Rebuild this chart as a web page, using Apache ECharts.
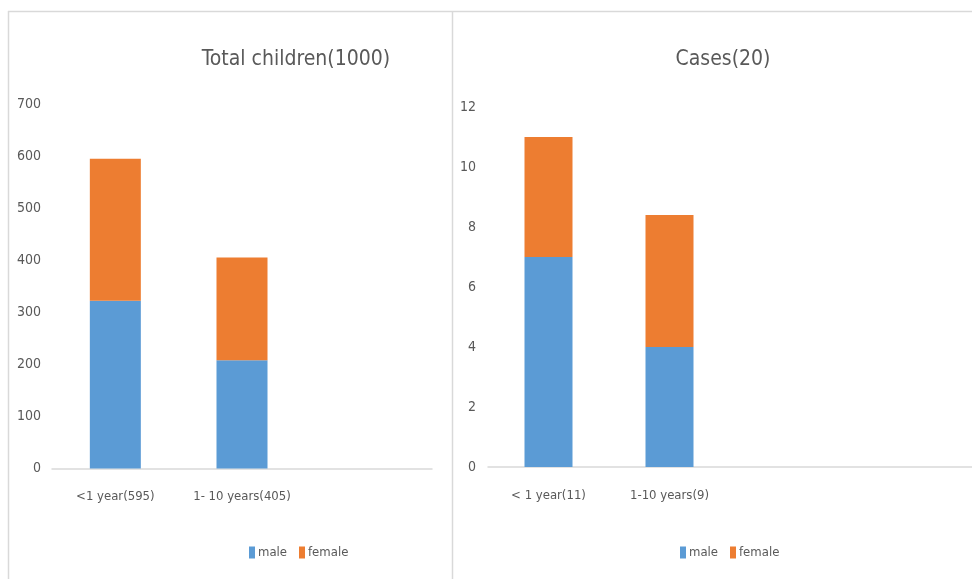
<!DOCTYPE html>
<html>
<head>
<meta charset="utf-8">
<script src="https://cdn.jsdelivr.net/npm/echarts@6/dist/echarts.min.js"></script>
<style>
html,body{margin:0;padding:0;background:#fff;}
#c{width:972px;height:579px;}
</style>
</head>
<body>
<div id="c"></div>
<script>
// ---- data ----
const leftTitle = 'Total children(1000)';
const rightTitle = 'Cases(20)';
const catsLeft = ['<1 year(595)', '1- 10 years(405)'];
const maleLeft = [322, 208];
const femaleLeft = [273, 197];
const catsRight = ['< 1 year(11)', '1-10 years(9)'];
const maleRight = [7, 4];
const femaleRight = [4, 4.4];
const seriesNames = ['male', 'female'];
const leftAxis = {min: 0, max: 700, interval: 100};
const rightAxis = {min: 0, max: 12, interval: 2};

const FONT = '"Liberation Sans Narrow", "Arial Narrow", "DejaVu Sans Condensed", sans-serif';
const TXT = '#595959';
const BLUE = '#5B9BD5';
const ORANGE = '#ED7D31';
const LINE = '#d9d9d9';

const chart = echarts.init(document.getElementById('c'), null, {renderer: 'canvas'});

function xAx(idx, cats, maxIdx, margin) {
  return {
    type: 'category', gridIndex: idx, data: cats, max: maxIdx,
    axisLine: {lineStyle: {color: LINE, width: 1.5}},
    axisTick: {show: false},
    axisLabel: {color: TXT, fontFamily: FONT, fontSize: 13, margin: margin, interval: 0}
  };
}
function yAx(idx, a, margin) {
  return {
    type: 'value', gridIndex: idx, min: a.min, max: a.max, interval: a.interval,
    axisLine: {show: false}, axisTick: {show: false}, splitLine: {show: false},
    axisLabel: {color: TXT, fontFamily: FONT, fontSize: 14, margin: margin}
  };
}
function bar(name, data, idx, color, w) {
  return {
    name: name, type: 'bar', stack: 's' + idx, xAxisIndex: idx, yAxisIndex: idx,
    data: data, barWidth: w, itemStyle: {color: color}, silent: true
  };
}

chart.setOption({
  animation: false,
  backgroundColor: '#fff',
  title: [
    {text: leftTitle, left: 291, top: 44, textAlign: 'center',
     textStyle: {color: TXT, fontFamily: FONT, fontSize: 21, fontWeight: 'normal'}},
    {text: rightTitle, left: 718, top: 44, textAlign: 'center',
     textStyle: {color: TXT, fontFamily: FONT, fontSize: 21, fontWeight: 'normal'}}
  ],
  legend: [
    {data: seriesNames, left: 244, top: 541, icon: 'rect', itemWidth: 6, itemHeight: 12, itemGap: 12,
     textStyle: {color: TXT, fontFamily: FONT, fontSize: 13, padding: [0, 0, 0, -2]}},
    {data: seriesNames, left: 675, top: 541, icon: 'rect', itemWidth: 6, itemHeight: 12, itemGap: 12,
     textStyle: {color: TXT, fontFamily: FONT, fontSize: 13, padding: [0, 0, 0, -2]}}
  ],
  grid: [
    {left: 52, top: 104, width: 380, height: 364.5},
    {left: 488, top: 107, width: 484, height: 360}
  ],
  xAxis: [xAx(0, catsLeft, 2, 22), xAx(1, catsRight, 3, 22)],
  yAxis: [yAx(0, leftAxis, 11), yAx(1, rightAxis, 12)],
  series: [
    bar(seriesNames[0], maleLeft, 0, BLUE, 51),
    bar(seriesNames[1], femaleLeft, 0, ORANGE, 51),
    bar(seriesNames[0], maleRight, 1, BLUE, 48),
    bar(seriesNames[1], femaleRight, 1, ORANGE, 48)
  ],
  graphic: [
    {type: 'line', shape: {x1: 8, y1: 11.5, x2: 972, y2: 11.5}, style: {stroke: LINE, lineWidth: 1.5}, silent: true},
    {type: 'line', shape: {x1: 8.5, y1: 11, x2: 8.5, y2: 579}, style: {stroke: LINE, lineWidth: 1.5}, silent: true},
    {type: 'line', shape: {x1: 452.5, y1: 11, x2: 452.5, y2: 579}, style: {stroke: LINE, lineWidth: 1.5}, silent: true}
  ]
});
</script>
</body>
</html>
